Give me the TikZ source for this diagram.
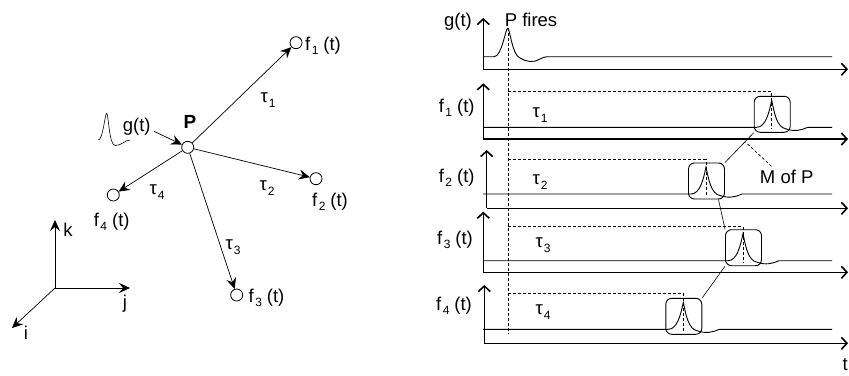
\documentclass[tikz,border=0pt]{standalone}
\usepackage{fontspec}
\setmainfont{Liberation Sans}
\usetikzlibrary{arrows.meta, calc}

\newcommand{\fsub}[1]{f\kern1.5pt\raisebox{-4pt}{\fontsize{12}{12}\selectfont #1}\kern5pt(t)}
\newcommand{\tsub}[1]{τ\kern1pt\raisebox{-5pt}{\fontsize{12}{12}\selectfont #1}}

\begin{document}
\begin{tikzpicture}[
  x=1pt, y=-1pt,
  >={Stealth[length=11pt, width=10pt, inset=4pt]},
  font=\fontsize{18.5}{20}\selectfont,
  dot/.style={circle, draw, inner sep=0pt, minimum size=12pt, line width=0.8pt},
  arr/.style={->, line width=0.7pt},
  axis/.style={-{Straight Barb[length=5.5pt, width=12pt, line width=1.6pt]}, line width=1.3pt},
  sig/.style={line width=0.9pt},
  pbox/.style={draw, rounded corners=6pt, minimum width=36pt, minimum height=36pt, inner sep=0pt, line width=0.9pt},
  tline/.style={dash pattern=on 3pt off 2pt, line width=0.6pt},
  spike/.style n args={3}{insert path={
    .. controls (#1-6,#2) and (#1-2.5,#3+12) .. (#1,#3)
    .. controls (#1+2.5,#3+12) and (#1+5,#2) .. (#1+14,#2+1.5)
    .. controls (#1+22,#2+4.5) and (#1+30,#2+3) .. (#1+36,#2)
    .. controls (#1+40,#2) .. (#1+46,#2)}},
  ]
  \useasboundingbox (0,0) rectangle (849,375);

  % Neuron P and its targets
  \node[dot] (P) at (187.7,147.3) {};
  \node[dot] (f1) at (296,42.7) {};
  \node[dot] (f2) at (316,178.7) {};
  \node[dot] (f3) at (236.7,295) {};
  \node[dot] (f4) at (113.3,195) {};
  \foreach \k in {1,...,4} {
    \draw[arr] (P) -- (f\k);
  }
  \node[font=\fontsize{19}{20}\selectfont\bfseries] (Pl) at (190,121.7) {P};
  \node (gl) at (136.7,126.7) {g(t)};
  \draw[arr] (gl.-15) -- (P);
  \draw[line width=0.6pt] (98.3,140) .. controls (103,140) and (105,113) .. (106.7,113.3)
    .. controls (108.5,113.5) and (109,145) .. (115,145.5)
    .. controls (121,146) and (125,140) .. (130,140);

  \node (t1) at (268,100) {\tsub{1}};
  \node (t2) at (267,188) {\tsub{2}};
  \node (t3) at (233,247) {\tsub{3}};
  \node (t4) at (157,192) {\tsub{4}};
  \node (f1l) at (323,46) {\fsub{1}};
  \node (f2l) at (330,202) {\fsub{2}};
  \node (f3l) at (266.5,298) {\fsub{3}};
  \node (f4l) at (111.7,222) {\fsub{4}};

  % Frame i, j, k
  \coordinate (O) at (55,288);
  \coordinate (kk) at (55,220);
  \coordinate (jj) at (130,288);
  \coordinate (ii) at (12,328);
  \draw[arr] (O) -- (kk);
  \draw[arr] (O) -- (jj);
  \draw[arr] (O) -- (ii);
  \node (kl) at (68,230) {k};
  \node (jl) at (125,304) {j};
  \node (il) at (26,333) {i};

  % g(t) of P
  \draw[axis] (483.3,69.3) -- (848,69.3);
  \draw[axis] (483.3,69.3) -- (483.3,18);
  \draw[sig] (483.3,56.7) -- (494,56.7) .. controls (502,56.7) and (505.5,28) .. (507.7,28.3)
    .. controls (510,28.6) and (512,55) .. (520,58)
    .. controls (526,62) and (534,63) .. (540,59)
    .. controls (545,56.7) .. (552,56.7) -- (832,56.7);
  \node (gr) at (458,21.7) {g(t)};
  \node (pf) at (531,20) {P fires};
  \draw[tline] (508.3,28) -- (508.3,333.3);

  % responses f1..f4
  \foreach \n/\ax/\ytop/\yax/\ybl/\ytau/\xpk in {
      1/483.3/83.3/139/127.3/91.7/771.7,
      2/486.7/150/208.3/194/159.3/706,
      3/483.3/211.7/272.3/260.7/226.7/743,
      4/484.3/285/343.3/329.3/293.3/683.3} {
    \draw[axis] (\ax,\yax) -- (848,\yax);
    \draw[axis] (\ax,\yax) -- (\ax,\ytop);
    \draw[sig] (483,\ybl) -- (\xpk-15,\ybl) [spike={\xpk}{\ybl}{\ybl-27}] -- (832,\ybl);
    \draw[tline] (508.3,\ytau) -- (\xpk,\ytau) -- (\xpk,\ybl+2);
    \node[pbox] (b\n) at (\xpk+0.5,\ybl-13) {};
  }
  \node (r1) at (456.7,108) {\fsub{1}};
  \node (r2) at (456.7,178) {\fsub{2}};
  \node (r3) at (455,240) {\fsub{3}};
  \node (r4) at (454,306) {\fsub{4}};
  \node (s1) at (540,115) {\tsub{1}};
  \node (s2) at (540,182) {\tsub{2}};
  \node (s3) at (543,245) {\tsub{3}};
  \node (s4) at (543,311.7) {\tsub{4}};

  % chain of the spikes
  \draw[sig, line width=0.6pt] (b1.south west) -- coordinate[pos=0.3] (mp) (b2.north east);
  \draw[sig, line width=0.6pt] (b2.-57) -- (b3.north west);
  \draw[sig, line width=0.6pt] (b3.south west) -- (b4.north east);
  \node (mofp) at (786.7,176.7) {M of P};
  \draw[tline] ($(mofp.north west)!0.25!(mofp.north east)$) -- (mp);

  \node[anchor=east, inner sep=1pt] (tl) at (849,365) {t};
\end{tikzpicture}
\end{document}
